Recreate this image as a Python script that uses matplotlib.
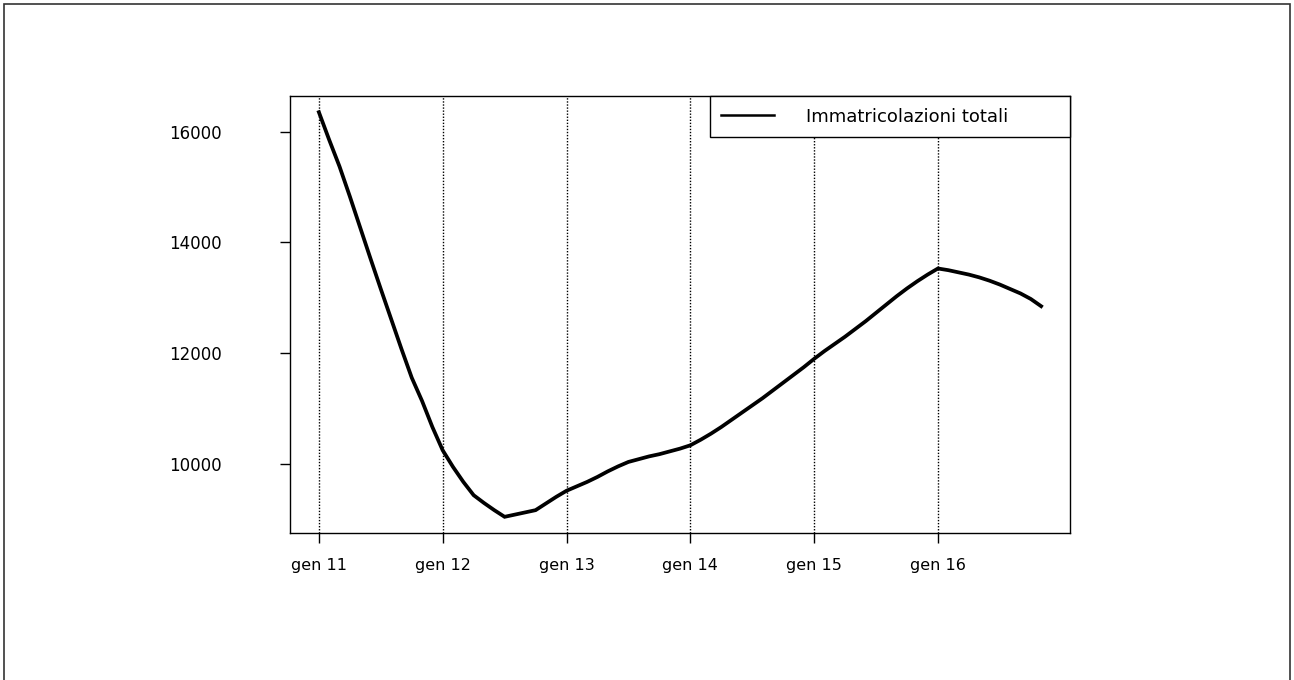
import matplotlib
matplotlib.use("Agg")
import matplotlib.pyplot as plt
from matplotlib.patches import Rectangle
import numpy as np

# monthly totals, gen 2011 .. nov 2016
anni = ["11", "12", "13", "14", "15", "16"]
immatricolazioni = [
    16350, 15850, 15370, 14830, 14270, 13710, 13160, 12620, 12080, 11560, 11140, 10670,
    10250, 9950, 9680, 9440, 9300, 9170, 9050, 9090, 9130, 9170, 9290, 9410,
    9520, 9600, 9680, 9770, 9870, 9960, 10040, 10090, 10140, 10180, 10230, 10280,
    10340, 10440, 10550, 10670, 10800, 10930, 11060, 11190, 11330, 11470, 11610, 11750,
    11900, 12040, 12170, 12300, 12440, 12580, 12730, 12880, 13030, 13170, 13300, 13420,
    13530, 13500, 13460, 13420, 13370, 13310, 13240, 13160, 13080, 12980, 12850,
]
y_ticks = [10000, 12000, 14000, 16000]

t = 2011 + np.arange(len(immatricolazioni)) / 12.0
anni_x = [2000 + int(a) for a in anni]

fig = plt.figure(figsize=(12.94, 6.8), dpi=100)
ax = fig.add_axes([290/1294, 1 - 533/680, 780/1294, 437/680])

ax.plot(t, immatricolazioni, color="black", lw=2.7, solid_joinstyle="miter",
        label="Immatricolazioni totali")

# R-style 4% padding on both axes
span_x = t[-1] - t[0]
ax.set_xlim(t[0] - 0.04*span_x, t[-1] + 0.04*span_x)
lo, hi = min(immatricolazioni), max(immatricolazioni)
ax.set_ylim(lo - 0.04*(hi - lo), hi + 0.04*(hi - lo))

ax.set_xticks(anni_x)
ax.set_xticklabels(["gen " + a for a in anni])
ax.set_yticks(y_ticks)
ax.set_yticklabels([str(v) for v in y_ticks])

for x in anni_x:
    ax.axvline(x, color="black", lw=1.0, linestyle=(0, (1, 1.2)), zorder=0)

for s in ax.spines.values():
    s.set_color("black")
    s.set_linewidth(1.0)

ax.tick_params(axis="y", direction="out", length=7, width=1, pad=42,
               labelsize=12, colors="black")
ax.tick_params(axis="x", direction="out", length=7, width=1, pad=11,
               labelsize=11.5, colors="black")

leg = ax.legend(loc="upper right", bbox_to_anchor=(0.538, 0.0, 0.462, 1.0),
                mode="expand", borderaxespad=0, fancybox=False, framealpha=1,
                edgecolor="black", fontsize=13, handlelength=2.9,
                handletextpad=1.8, borderpad=0.65)
leg.get_frame().set_linewidth(1.0)
leg.get_lines()[0].set_linewidth(1.8)

# frame around the whole figure
fig.patches.append(Rectangle((4/1294, -0.05), 1286/1294, 1.05 - 4/680,
                             transform=fig.transFigure, fill=False,
                             edgecolor="#333333", lw=1.2))

fig.savefig("out.png", dpi=100, facecolor="white")
